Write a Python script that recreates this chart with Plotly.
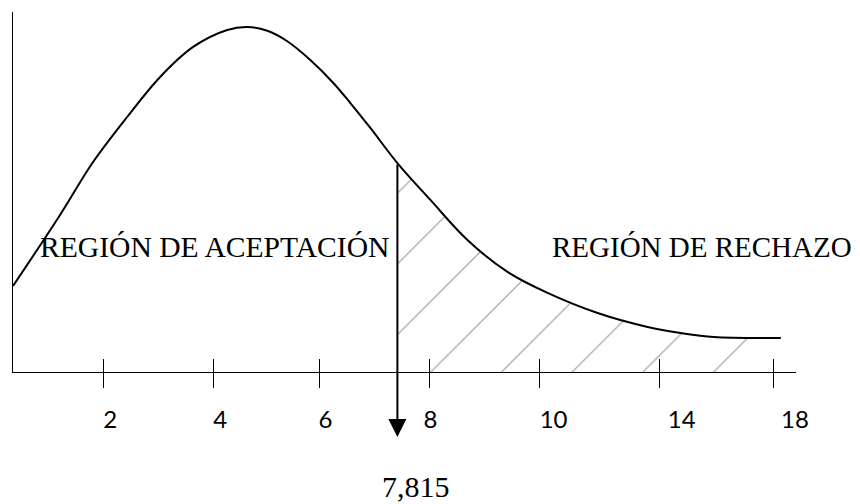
import plotly.graph_objects as go

# curva dibujada (unidades del dibujo: eje x no lineal, como en el esquema)
curva_x = [0.315, 1.185, 1.796, 2.426, 3.037, 3.648, 4.278, 4.648, 5.019, 5.389,
           5.815, 6.241, 6.556, 6.926, 7.426, 8.037, 8.722, 9.463, 10.204, 11.13,
           12.056, 12.667, 13.278, 14.519]
curva_y = [0.0573, 0.1047, 0.14, 0.17, 0.1967, 0.2167, 0.228, 0.23, 0.2275, 0.2205,
           0.208, 0.1927, 0.1793, 0.1627, 0.1393, 0.1147, 0.088, 0.0667, 0.0527, 0.0393,
           0.03, 0.026, 0.0233, 0.0227]

# marcas del eje y sus etiquetas
marcas_x = [1.981, 4.019, 5.981, 8.019, 10.056, 12.278, 14.389]
etiquetas_x = [2.111, 4.148, 6.093, 8.037, 10.315, 12.685, 14.78]
etiquetas = ['2', '4', '6', '8', '10', '14', '18']

# valor critico
critico_pos = 7.426
critico_txt = '7,815'

rango_x = [0.315, 14.8]
rango_y = [0, 0.24]

rechazo_x = [x for x in curva_x if x >= critico_pos]
rechazo_y = [y for x, y in zip(curva_x, curva_y) if x >= critico_pos]
y_critico = curva_y[curva_x.index(critico_pos)]

fig = go.Figure()

# zona rayada (region de rechazo), en el eje x2 para que se dibujen sus marcas
fig.add_trace(go.Scatter(
    x=rechazo_x, y=rechazo_y, mode='lines', xaxis='x2',
    line=dict(width=0, shape='spline', smoothing=1),
    fill='tozeroy', fillcolor='rgba(0,0,0,0)',
    fillpattern=dict(shape='/', size=50, solidity=0.02, fgcolor='#222',
                     bgcolor='rgba(255,255,255,0)'),
    hoverinfo='skip', showlegend=False
))

fig.add_trace(go.Scatter(
    x=curva_x, y=curva_y, mode='lines',
    line=dict(color='black', width=2, shape='spline', smoothing=1),
    showlegend=False
))

# flecha del valor critico
fig.add_annotation(
    x=critico_pos, y=-0.0433, ax=critico_pos, ay=y_critico,
    xref='x', yref='y', axref='x', ayref='y',
    text='', showarrow=True, arrowhead=2, arrowwidth=2, arrowsize=1.8,
    arrowcolor='black'
)
fig.add_annotation(
    x=7.778, y=-0.319, xref='x', yref='paper', yanchor='middle',
    text=critico_txt, showarrow=False,
    font=dict(family='Liberation Serif', size=30, color='black')
)
fig.add_annotation(
    x=4.037, y=0.0833, xref='x', yref='y', text='REGIÓN DE ACEPTACIÓN',
    showarrow=False, font=dict(family='Liberation Serif', size=29.6, color='black')
)
fig.add_annotation(
    x=13.056, y=0.0833, xref='x', yref='y', text='REGIÓN DE RECHAZO',
    showarrow=False, font=dict(family='Liberation Serif', size=29, color='black')
)

fig.update_layout(
    width=860, height=504,
    margin=dict(l=5, r=72, t=4, b=140),
    paper_bgcolor='white', plot_bgcolor='white',
    xaxis=dict(
        range=rango_x, showgrid=False, zeroline=False, automargin=False,
        showline=True, linecolor='black', linewidth=1.3,
        tickmode='array', tickvals=etiquetas_x, ticktext=etiquetas, ticks='',
        ticklabelstandoff=26,
        tickfont=dict(family='Lato', size=24, color='black'),
        minor=dict(tickmode='array', tickvals=marcas_x, ticks='outside',
                   ticklen=15, tickwidth=1, tickcolor='black', showgrid=False)
    ),
    xaxis2=dict(
        range=rango_x, overlaying='x', anchor='y', side='bottom',
        showgrid=False, zeroline=False, showline=False, automargin=False,
        tickmode='array', tickvals=marcas_x, ticks='inside', ticklen=13,
        tickwidth=1, tickcolor='black', showticklabels=False
    ),
    yaxis=dict(
        range=rango_y, showgrid=False, zeroline=False, automargin=False,
        showline=True, linecolor='black', linewidth=1.3,
        showticklabels=False, ticks=''
    )
)

fig.write_html("out.html")
